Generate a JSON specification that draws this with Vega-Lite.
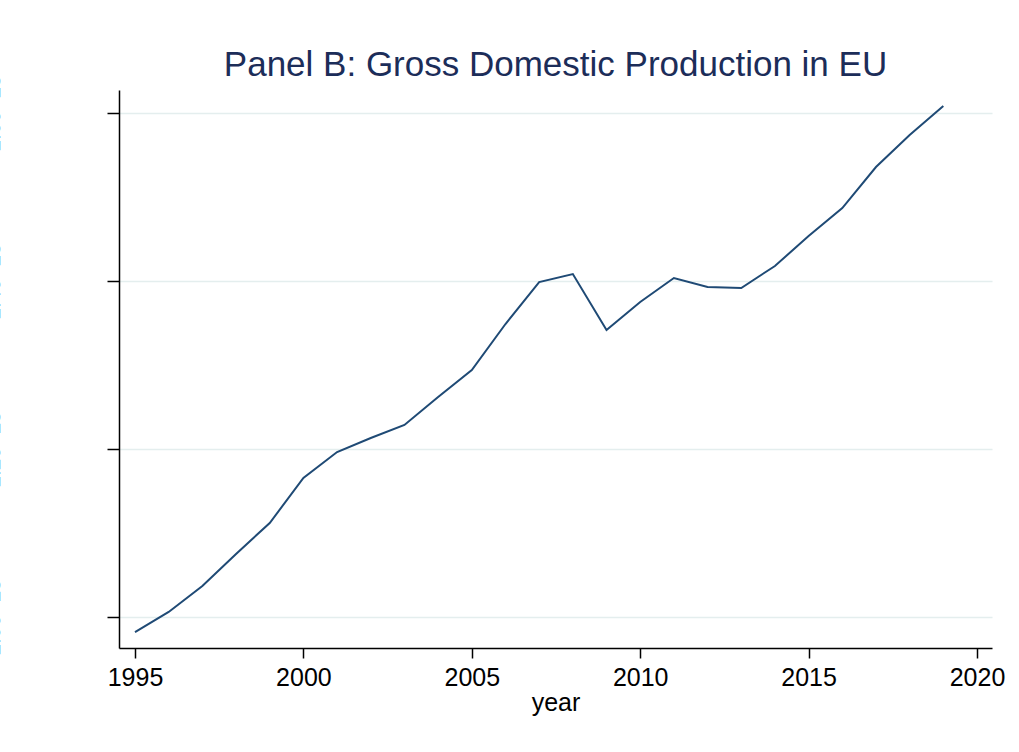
{
  "$schema": "https://vega.github.io/schema/vega-lite/v6.json",
  "autosize": {"type": "none"},
  "padding": {"left": 119, "top": 90, "right": 27, "bottom": 104},
  "width": 873,
  "height": 558,
  "background": "white",
  "config": {
    "view": {"stroke": null},
    "font": "Liberation Sans"
  },
  "title": {
    "text": "Panel B: Gross Domestic Production in EU",
    "fontSize": 35,
    "font": "Liberation Sans",
    "fontWeight": "normal",
    "color": "#1c2d59",
    "anchor": "middle",
    "offset": 12,
    "dy": 20
  },
  "data": {
    "values": [
      {"year": 1995, "gdp": 9.821},
      {"year": 1996, "gdp": 10.060},
      {"year": 1997, "gdp": 10.369},
      {"year": 1998, "gdp": 10.750},
      {"year": 1999, "gdp": 11.119},
      {"year": 2000, "gdp": 11.655},
      {"year": 2001, "gdp": 11.964},
      {"year": 2002, "gdp": 12.131},
      {"year": 2003, "gdp": 12.286},
      {"year": 2004, "gdp": 12.619},
      {"year": 2005, "gdp": 12.940},
      {"year": 2006, "gdp": 13.488},
      {"year": 2007, "gdp": 13.988},
      {"year": 2008, "gdp": 14.083},
      {"year": 2009, "gdp": 13.417},
      {"year": 2010, "gdp": 13.750},
      {"year": 2011, "gdp": 14.036},
      {"year": 2012, "gdp": 13.929},
      {"year": 2013, "gdp": 13.917},
      {"year": 2014, "gdp": 14.179},
      {"year": 2015, "gdp": 14.536},
      {"year": 2016, "gdp": 14.869},
      {"year": 2017, "gdp": 15.357},
      {"year": 2018, "gdp": 15.738},
      {"year": 2019, "gdp": 16.083}
    ]
  },
  "mark": {"type": "line", "color": "#1f4a75", "strokeWidth": 2},
  "encoding": {
    "x": {
      "field": "year",
      "type": "quantitative",
      "scale": {"domain": [1994.525, 2020.445], "nice": false, "zero": false},
      "axis": {
        "values": [1995, 2000, 2005, 2010, 2015, 2020],
        "format": "d",
        "title": "year",
        "titleFontSize": 25,
        "titleFontWeight": "normal",
        "titleColor": "black",
        "titlePadding": 0,
        "labelFontSize": 25,
        "labelColor": "black",
        "labelPadding": 7,
        "grid": false,
        "domainColor": "black",
        "domainWidth": 1.5,
        "tickColor": "black",
        "tickSize": 10,
        "tickWidth": 1.5
      }
    },
    "y": {
      "field": "gdp",
      "type": "quantitative",
      "scale": {"domain": [9.631, 16.274], "nice": false, "zero": false},
      "axis": {
        "values": [10, 12, 14, 16],
        "labelExpr": "format(datum.value/10, '.1f') + 'e+13'",
        "title": null,
        "labelAngle": -90,
        "labelFontSize": 21,
        "labelColor": "black",
        "labelPadding": 104,
        "grid": true,
        "gridColor": "#e4eeee",
        "gridWidth": 1.5,
        "domainColor": "black",
        "domainWidth": 1.5,
        "tickColor": "black",
        "tickSize": 12,
        "tickWidth": 1.5
      }
    }
  }
}
